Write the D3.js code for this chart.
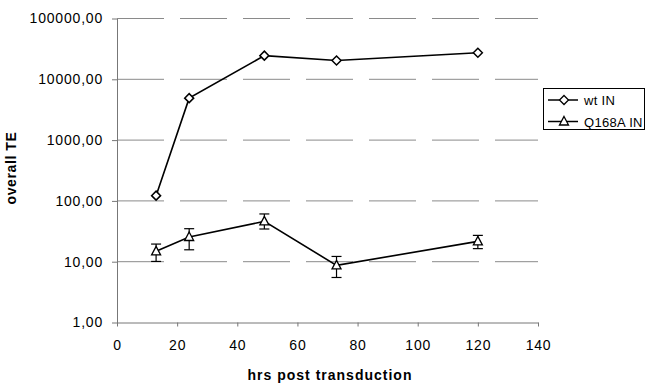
<!DOCTYPE html>
<html><head><meta charset="utf-8">
<script src="https://cdn.jsdelivr.net/npm/d3@7"></script>
<style>body{margin:0;background:#fff}svg{display:block}text{font-family:"Liberation Sans",Arial,sans-serif}</style>
</head><body>
<svg id="c" width="645" height="384"></svg>
<script>
const hours = [13, 24, 49, 73, 120];
const wtIN = [122, 4900, 24500, 20400, 27300];
const q168aIN = [14.8, 25.5, 46, 8.7, 21.6];
const q168aLow = [10.1, 15.7, 34.5, 5.5, 16.4];
const q168aHigh = [19.5, 34.9, 61, 12.2, 27.1];
const seriesNames = ["wt IN", "Q168A IN"];
const xTicks = [0, 20, 40, 60, 80, 100, 120, 140];
const yTicks = [1, 10, 100, 1000, 10000, 100000];

const svg = d3.select("#c");
const L = 117, R = 538, T = 18.5, B = 322.5;
const x = d3.scaleLinear().domain([0, 140]).range([L, R]);
const y = d3.scaleLog().domain([1, 100000]).range([B, T]);
const fmt = d => d3.format(".2f")(d).replace(".", ",");

// gridlines
svg.append("g").selectAll("line").data(yTicks.slice(1)).join("line")
  .attr("x1", L).attr("x2", R).attr("y1", d => y(d)).attr("y2", d => y(d))
  .attr("stroke", "#8a8a8a").attr("stroke-width", 1).attr("stroke-dasharray", "47,16");

// axes
const ya = svg.append("g").attr("transform", `translate(${L},0)`)
  .call(d3.axisLeft(y).tickValues(yTicks).tickFormat(fmt).tickSize(5).tickSizeOuter(0));
const xa = svg.append("g").attr("transform", `translate(0,${B})`)
  .call(d3.axisBottom(x).tickValues(xTicks).tickSize(4).tickSizeOuter(0));
[ya, xa].forEach(a => {
  a.select(".domain").attr("stroke", "#777");
  a.selectAll(".tick line").attr("stroke", "#777");
  a.selectAll("text").attr("fill", "#000").style("font-size", "14px").style("letter-spacing", "0.8px");
});
ya.selectAll("text").attr("x", -14);
xa.selectAll("text").attr("y", 18);

// titles
svg.append("text").attr("x", 330).attr("y", 380).attr("text-anchor", "middle")
  .style("font-size", "14px").style("font-weight", "bold").style("letter-spacing", "1px").text("hrs post transduction");
svg.append("text").attr("transform", "translate(16,168) rotate(-90)").attr("text-anchor", "middle")
  .style("font-size", "14px").style("font-weight", "bold").style("letter-spacing", "0.6px").text("overall TE");

const line = d3.line().x(d => x(d[0])).y(d => y(d[1]));
const wtData = hours.map((h, i) => [h, wtIN[i]]);
const qData = hours.map((h, i) => [h, q168aIN[i]]);

// error bars
const eb = svg.append("g").attr("stroke", "#000").attr("stroke-width", 1.2);
hours.forEach((h, i) => {
  eb.append("line").attr("x1", x(h)).attr("x2", x(h)).attr("y1", y(q168aLow[i])).attr("y2", y(q168aHigh[i]));
  eb.append("line").attr("x1", x(h) - 5).attr("x2", x(h) + 5).attr("y1", y(q168aLow[i])).attr("y2", y(q168aLow[i]));
  eb.append("line").attr("x1", x(h) - 5).attr("x2", x(h) + 5).attr("y1", y(q168aHigh[i])).attr("y2", y(q168aHigh[i]));
});

svg.append("path").datum(wtData).attr("d", line).attr("fill", "none").attr("stroke", "#000").attr("stroke-width", 1.6);
svg.append("path").datum(qData).attr("d", line).attr("fill", "none").attr("stroke", "#000").attr("stroke-width", 1.6);

const diamond = "M0,-4.5L4.5,0L0,4.5L-4.5,0Z";
const tri = "M0,-5L4.5,3.5L-4.5,3.5Z";
svg.append("g").selectAll("path").data(wtData).join("path")
  .attr("transform", d => `translate(${x(d[0])},${y(d[1])})`).attr("d", diamond)
  .attr("fill", "#fff").attr("stroke", "#000").attr("stroke-width", 1.5);
svg.append("g").selectAll("path").data(qData).join("path")
  .attr("transform", d => `translate(${x(d[0])},${y(d[1])})`).attr("d", tri)
  .attr("fill", "#fff").attr("stroke", "#000").attr("stroke-width", 1.3);

// legend
const lg = svg.append("g");
lg.append("rect").attr("x", 543.5).attr("y", 88.5).attr("width", 101).attr("height", 41)
  .attr("fill", "#fff").attr("stroke", "#000").attr("stroke-width", 1);
const shapes = [diamond, tri];
seriesNames.forEach((n, i) => {
  const yy = 100 + i * 21.5;
  lg.append("line").attr("x1", 548).attr("x2", 578).attr("y1", yy).attr("y2", yy).attr("stroke", "#000").attr("stroke-width", 1.5);
  lg.append("path").attr("d", shapes[i]).attr("transform", `translate(564,${yy})`)
    .attr("fill", "#fff").attr("stroke", "#000").attr("stroke-width", 1.3);
  lg.append("text").attr("x", 584).attr("y", yy + 5).style("font-size", "13px").style("letter-spacing", "0.3px").text(n);
});
</script>
</body></html>
